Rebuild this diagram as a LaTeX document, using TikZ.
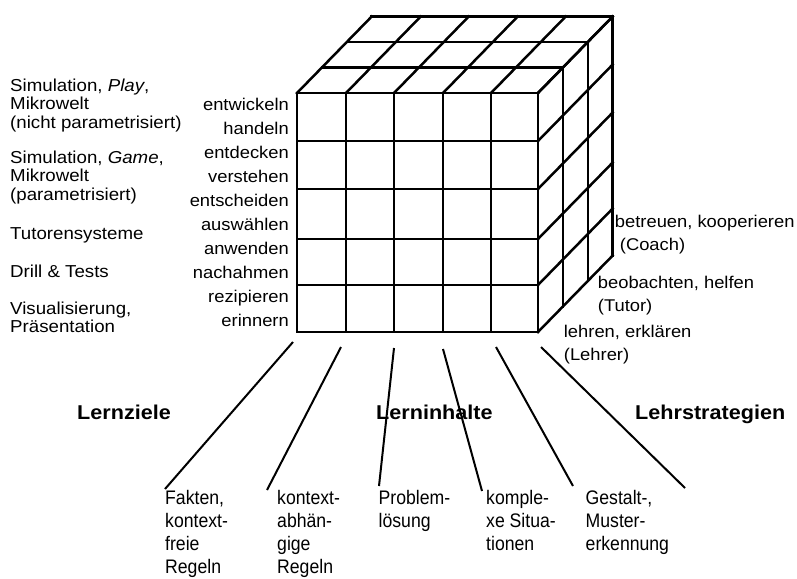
\documentclass[tikz,border=0pt]{standalone}
\usepackage{fontspec}
\setmainfont{Liberation Sans}
\newfontfamily\lblfont[FakeStretch=1.08]{Liberation Sans}
\newfontfamily\narrowfont[FakeStretch=0.9]{Liberation Sans}
\begin{document}
\begin{tikzpicture}[x=1pt,y=-1pt,
  cube/.style={line width=2.5pt,line cap=rect},
  conn/.style={line width=2pt},
  sidetext/.style={font=\lblfont\fontsize{17.3}{18.5}\selectfont, inner sep=0pt, align=left, anchor=north west},
  verbtext/.style={font=\lblfont\fontsize{17}{24}\selectfont, inner sep=0pt, align=right, anchor=north east},
  roletext/.style={font=\lblfont\fontsize{17}{23.5}\selectfont, inner sep=0pt, align=left, anchor=north west},
  dimtext/.style={font=\lblfont\bfseries\fontsize{20}{24}\selectfont, inner sep=0pt, anchor=base west},
  itemtext/.style={font=\narrowfont\fontsize{19.6}{22.9}\selectfont, inner sep=0pt, align=left, anchor=north west},
]
\useasboundingbox (0,0) rectangle (797,578);

% front face grid
\foreach \x in {297,346,394,443,491,538} \draw[cube] (\x,93) -- (\x,332);
\foreach \y in {93,141,189,239,285,332} \draw[cube] (297,\y) -- (538,\y);
% top face
\foreach \k in {1,2,3} \draw[cube, shift={(\k*24.9,-\k*25.5)}] (297,93) -- (538,93);
\foreach \x in {297,346,394,443,491,538} \draw[cube] (\x,93) -- ++(74.7,-76.5);
% right face
\foreach \k in {1,2,3} \draw[cube, shift={(\k*24.9,-\k*25.5)}] (538,93) -- (538,332);
\foreach \y in {93,141,189,239,285,332} \draw[cube] (538,\y) -- ++(74.7,-76.5);

% left column: media types
\node[sidetext] (m1) at (10,78.4) {Simulation, \textit{Play},\\Mikrowelt\\(nicht parametrisiert)};
\node[sidetext] (m2) at (10,150.4) {Simulation, \textit{Game},\\Mikrowelt\\(parametrisiert)};
\node[sidetext] (m3) at (10,227.4) {Tutorensysteme};
\node[sidetext] (m4) at (10,264.4) {Drill \& Tests};
\node[sidetext] (m5) at (10,301.4) {Visualisierung,\\Präsentation};

% verbs
\node[verbtext] (verbs) at (289,97.6) {entwickeln\\handeln\\entdecken\\verstehen\\entscheiden\\auswählen\\anwenden\\nachahmen\\rezipieren\\erinnern};

% roles
\node[roletext] (r1) at (614.7,214.6) {betreuen, kooperieren\\\hspace*{5pt}(Coach)};
\node[roletext] (r2) at (597.7,275.6) {beobachten, helfen\\(Tutor)};
\node[roletext] (r3) at (563.7,324.6) {lehren, erklären\\(Lehrer)};

% dimension titles
\node[dimtext] (d1) at (77,419) {Lernziele};
\node[dimtext] (d2) at (376,419) {Lerninhalte};
\node[dimtext] (d3) at (635,419) {Lehrstrategien};

% content items
\node[itemtext] (i1) at (165,490) {Fakten,\\kontext-\\freie\\Regeln};
\node[itemtext] (i2) at (277,490) {kontext-\\abhän-\\gige\\Regeln};
\node[itemtext] (i3) at (378.5,490) {Problem-\\lösung};
\node[itemtext] (i4) at (486,490) {komple-\\xe Situa-\\tionen};
\node[itemtext] (i5) at (585.5,490) {Gestalt-,\\Muster-\\erkennung};

% connector ends
\coordinate (s1) at (293,342); \coordinate (e1) at (165,489);
\coordinate (s2) at (341,347); \coordinate (e2) at (267,490);
\coordinate (s3) at (394,348); \coordinate (e3) at (379,486);
\coordinate (s4) at (443,349); \coordinate (e4) at (482,491);
\coordinate (s5) at (496,347); \coordinate (e5) at (573,486);
\coordinate (s6) at (541,347); \coordinate (e6) at (685,488);
\foreach \i in {1,...,6} \draw[conn] (s\i) -- (e\i);
\end{tikzpicture}
\end{document}
